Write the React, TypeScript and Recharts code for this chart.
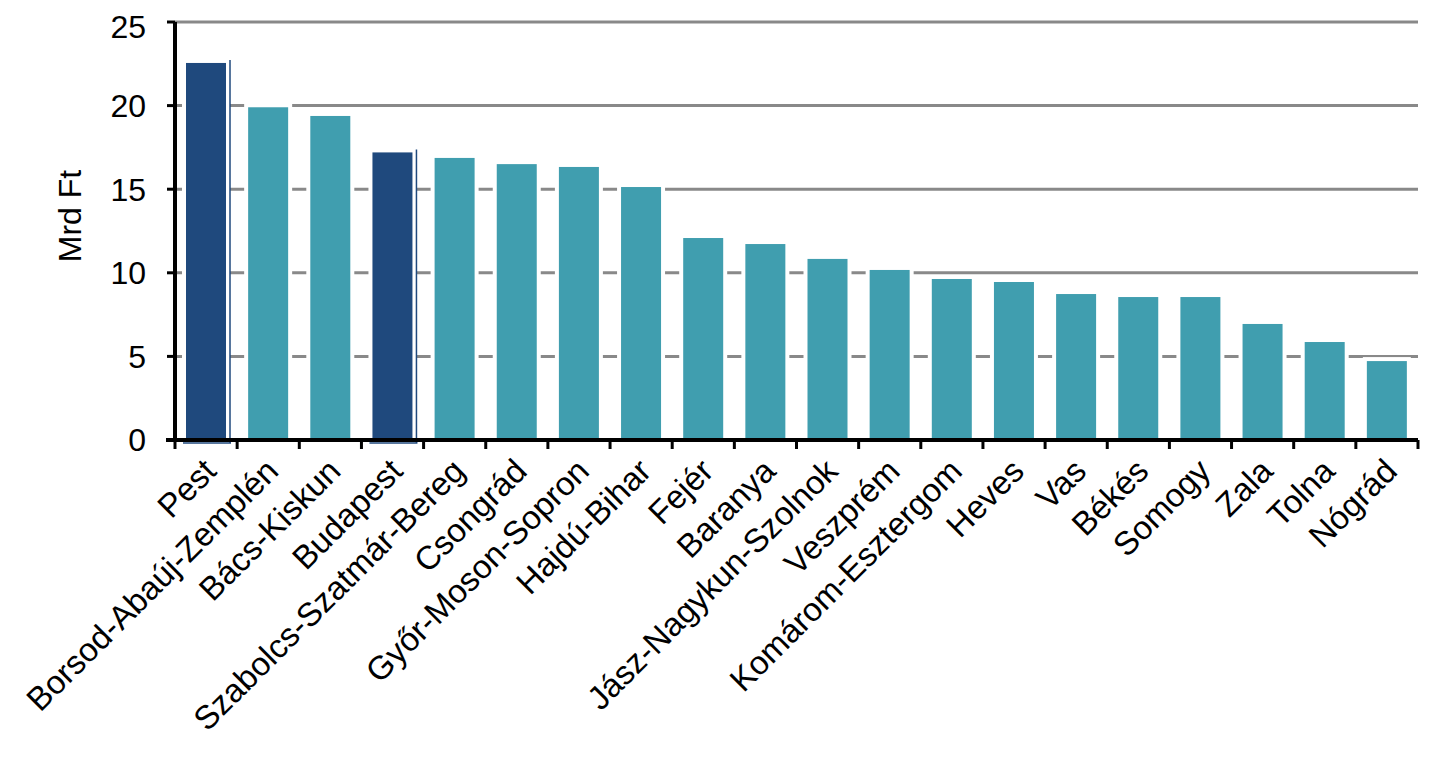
import React from 'react';
import { BarChart, Bar, XAxis, YAxis, CartesianGrid, Cell } from 'recharts';

const counties = [
  'Pest', 'Borsod-Abaúj-Zemplén', 'Bács-Kiskun', 'Budapest', 'Szabolcs-Szatmár-Bereg',
  'Csongrád', 'Győr-Moson-Sopron', 'Hajdú-Bihar', 'Fejér', 'Baranya',
  'Jász-Nagykun-Szolnok', 'Veszprém', 'Komárom-Esztergom', 'Heves', 'Vas',
  'Békés', 'Somogy', 'Zala', 'Tolna', 'Nógrád',
];
const amounts = [
  22.55, 19.9, 19.38, 17.2, 16.87, 16.5, 16.33, 15.13, 12.08, 11.72,
  10.83, 10.17, 9.63, 9.45, 8.73, 8.55, 8.55, 6.94, 5.86, 4.72,
];
const highlighted = ['Pest', 'Budapest'];
const yTicks = [0, 5, 10, 15, 20, 25];

const data = counties.map((name, i) => ({ name, value: amounts[i] }));

const TEAL = '#409eaf';
const NAVY = '#1f497d';
const FONT = '"Liberation Sans", Arial, sans-serif';

const BarShape = (props: any) => {
  const { x, y, width, height, fill, payload } = props;
  const dark = highlighted.includes(payload.name);
  const bottom = y + height;
  return (
    <g>
      <rect x={x - 4} y={y - 4} width={width + 8} height={height + 4} fill="#fff" />
      <rect x={x} y={y} width={width} height={height} fill={fill} />
      {dark && (
        <>
          <line x1={x + width + 4} y1={y - 3} x2={x + width + 4} y2={bottom + 3} stroke={NAVY} strokeWidth={1.5} />
          <line x1={x - 3} y1={bottom + 3} x2={x + width + 5} y2={bottom + 3} stroke={NAVY} strokeWidth={1.5} />
        </>
      )}
    </g>
  );
};

const XTick = (props: any) => {
  const { x, y, payload, index } = props;
  const half = payload.offset || 31.15;
  const last = index === counties.length - 1;
  return (
    <g>
      <line x1={x - half} y1={y - 8} x2={x - half} y2={y + 1} stroke="#000" strokeWidth={3} />
      {last && <line x1={x + half} y1={y - 8} x2={x + half} y2={y + 1} stroke="#000" strokeWidth={3} />}
      {index === 0 && <line x1={x - half - 9} y1={y - 8} x2={x - half} y2={y - 8} stroke="#000" strokeWidth={4} />}
      <text
        x={0}
        y={0}
        transform={`translate(${x + 12},${y + 25}) rotate(-45)`}
        textAnchor="end"
        fontSize={33}
        fontFamily={FONT}
        fill="#000"
      >
        {payload.value}
      </text>
    </g>
  );
};

const YLabel = (props: any) => {
  const { viewBox } = props;
  const cy = viewBox.y + viewBox.height / 2;
  return (
    <text
      x={0}
      y={0}
      transform={`translate(73,${cy - 15}) rotate(-90)`}
      textAnchor="middle"
      fontSize={32}
      fontFamily={FONT}
      fill="#000"
    >
      Mrd Ft
    </text>
  );
};

export default function App() {
  return (
    <div style={{ width: 1430, height: 750, background: '#fff' }}>
      <BarChart
        width={1430}
        height={750}
        data={data}
        margin={{ top: 14, right: 20, bottom: 0, left: 0 }}
      >
        <CartesianGrid vertical={false} stroke="#898989" strokeWidth={3} />
        <XAxis
          dataKey="name"
          interval={0}
          height={318}
          tickLine={false}
          axisLine={{ stroke: '#000', strokeWidth: 4 }}
          tick={<XTick />}
        />
        <YAxis
          domain={[0, 25]}
          ticks={yTicks}
          width={167}
          tickSize={8}
          tickMargin={21}
          tickLine={{ stroke: '#000', strokeWidth: 3 }}
          axisLine={{ stroke: '#000', strokeWidth: 4 }}
          tick={{ fontSize: 32, fontFamily: FONT, fill: '#000' }}
          label={<YLabel />}
        />
        <Bar dataKey="value" barSize={40} shape={<BarShape />} isAnimationActive={false}>
          {data.map((d) => (
            <Cell key={d.name} fill={highlighted.includes(d.name) ? NAVY : TEAL} />
          ))}
        </Bar>
      </BarChart>
    </div>
  );
}
